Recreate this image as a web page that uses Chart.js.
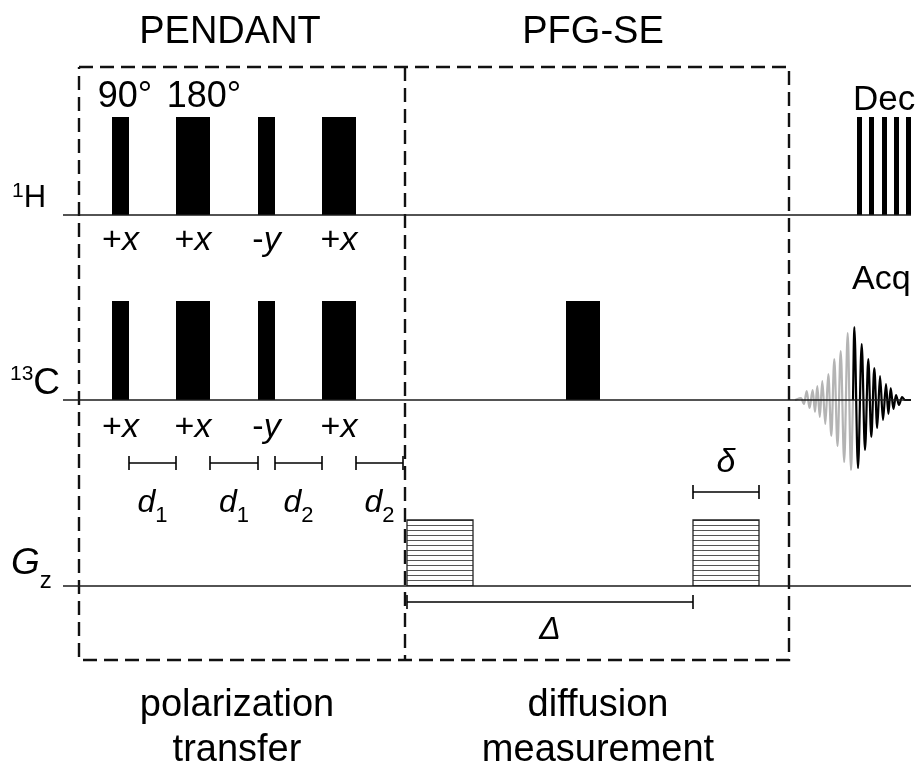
<!DOCTYPE html>
<html>
<head>
<meta charset="utf-8">
<script src="https://cdn.jsdelivr.net/npm/chart.js@4.4.1/dist/chart.umd.min.js"></script>
<style>
  html, body { margin: 0; padding: 0; background: #ffffff; }
  #wrap { width: 919px; height: 768px; }
</style>
</head>
<body>
<div id="wrap"><canvas id="seq" width="919" height="768"></canvas></div>
<script>
// ---- sequence timing (time runs left to right) ----
const traceStart = 63, traceEnd = 911;
const levelH = 215, levelC = 400, levelG = 586;

// 1H pulses: start, end, phase
const hPulseStart = [112, 176, 258, 322];
const hPulseEnd   = [129, 210, 275, 356];
const hPulseTop   = 117;
const hPhases     = ['+x', '+x', '-y', '+x'];

// 13C pulses (last one is the refocusing pulse of the spin echo)
const cPulseStart = [112, 176, 258, 322, 566];
const cPulseEnd   = [129, 210, 275, 356, 600];
const cPulseTop   = 301;
const cPhases     = ['+x', '+x', '-y', '+x'];

// 1H broadband decoupling during acquisition
const decStart = [857, 869, 882, 894, 906];
const decEnd   = [862, 874, 887, 899, 911];

// z field gradient pulses
const gradStart = [407, 693];
const gradEnd   = [473, 759];
const gradTop   = 520;

// delays
const delayStart = [129, 210, 275, 356];
const delayEnd   = [176, 258, 322, 403];
const delayIndex = ['1', '1', '2', '2'];
const delayLevel = 463;
const bigDeltaSpan = [407, 693];
const bigDeltaLevel = 602;
const smallDeltaSpan = [693, 759];
const smallDeltaLevel = 492;

// acquired echo: extrema (time, amplitude above the 13C baseline)
const echoRiseT = [795, 801, 804, 806.7, 809.5, 812.7, 815, 817.3, 819.8, 822.3, 825.3, 828.3, 831.3, 834.3, 837.5, 840.7, 844.2, 847.7, 851, 853];
const echoRiseA = [0, 2, -4, 9, -8, 10, -12, 14, -17, 19, -24, 26, -36, 41, -46, 49, -62, 67, -70, 0];
const echoFallT = [853, 854.3, 858, 861.7, 865, 868.3, 871.3, 874.3, 877.2, 880, 883, 886, 888.4, 890.7, 893.4, 896, 899, 902, 905, 911];
const echoFallA = [0, 73, -68, 56, -50, 41, -37, 32, -28, 24, -20, 16, -14, 12, -9, 5, -5, 3, 0, 0];

// dashed blocks: PENDANT | PFG-SE
const blockEdges = [79, 405, 789];
const blockTop = 67, blockBottom = 660;

// ---- helpers building point lists ----
function pulseTrain(starts, ends, top, base) {
  const pts = [];
  starts.forEach((s, i) => {
    pts.push({x: s, y: base}, {x: s, y: top}, {x: ends[i], y: top}, {x: ends[i], y: base});
  });
  return pts;
}
function echoPoints(ts, as, base) {
  return ts.map((t, i) => ({x: t, y: base - as[i]}));
}
function segment(x0, x1, y) { return [{x: x0, y: y}, {x: x1, y: y}]; }

// horizontal hatching for gradient pulses
const hatchCanvas = document.createElement('canvas');
hatchCanvas.width = 4; hatchCanvas.height = 5;
const hctx = hatchCanvas.getContext('2d');
hctx.fillStyle = '#555555';
hctx.fillRect(0, 0, 4, 1);
const hatch = hctx.createPattern(hatchCanvas, 'repeat');

const datasets = [];
function add(ds) {
  datasets.push(Object.assign({pointRadius: 0, borderColor: '#000', borderWidth: 1.6, fill: false, tension: 0}, ds));
}

// channel baselines
[levelH, levelC, levelG].forEach(l => add({data: segment(traceStart, traceEnd, l), borderWidth: 1.6, borderColor: '#1a1a1a'}));

// RF pulses
add({data: pulseTrain(hPulseStart, hPulseEnd, hPulseTop, levelH), borderWidth: 0, backgroundColor: '#000', fill: {target: {value: levelH}}});
add({data: pulseTrain(cPulseStart, cPulseEnd, cPulseTop, levelC), borderWidth: 0, backgroundColor: '#000', fill: {target: {value: levelC}}});
add({data: pulseTrain(decStart, decEnd, hPulseTop, levelH), borderWidth: 0, backgroundColor: '#000', fill: {target: {value: levelH}}});

// gradient pulses
gradStart.forEach((s, i) => {
  add({data: [{x: s, y: levelG}, {x: s, y: gradTop}, {x: gradEnd[i], y: gradTop}, {x: gradEnd[i], y: levelG}],
       borderWidth: 1.3, borderColor: '#222', backgroundColor: hatch, fill: {target: {value: levelG}}});
});

// echo signal
add({data: echoPoints(echoRiseT, echoRiseA, levelC), borderColor: '#b4b4b4', borderWidth: 2.2, cubicInterpolationMode: 'monotone'});
add({data: echoPoints(echoFallT, echoFallA, levelC), borderColor: '#000', borderWidth: 2.2, cubicInterpolationMode: 'monotone'});

// delay markers with end ticks
const tick = {pointRadius: 7, pointStyle: 'line', rotation: 90, pointBorderWidth: 1.6, pointBorderColor: '#000', borderWidth: 1.6};
delayStart.forEach((s, i) => add(Object.assign({data: segment(s, delayEnd[i], delayLevel)}, tick)));
add(Object.assign({data: segment(bigDeltaSpan[0], bigDeltaSpan[1], bigDeltaLevel)}, tick));
add(Object.assign({data: segment(smallDeltaSpan[0], smallDeltaSpan[1], smallDeltaLevel)}, tick));

// dashed blocks
const dash = {borderDash: [14, 7], borderWidth: 2.4, borderColor: '#111'};
add(Object.assign({data: [
  {x: blockEdges[0], y: blockTop}, {x: blockEdges[2], y: blockTop},
  {x: blockEdges[2], y: blockBottom}, {x: blockEdges[0], y: blockBottom},
  {x: blockEdges[0], y: blockTop}]}, dash));
add(Object.assign({data: [{x: blockEdges[1], y: blockTop}, {x: blockEdges[1], y: blockBottom}]}, dash));

// ---- text ----
const FAM = "'Liberation Sans', Arial, Helvetica, sans-serif";
function f(size, italic) { return (italic ? 'italic ' : '') + size + 'px ' + FAM; }

// parts: [{t, font, dy}]; align: 'left' | 'center'
function rich(ctx, x, y, parts, align) {
  let w = 0;
  parts.forEach(p => { ctx.font = p.font; p.w = ctx.measureText(p.t).width; w += p.w; });
  let cx = align === 'center' ? x - w / 2 : x;
  ctx.textAlign = 'left';
  ctx.textBaseline = 'alphabetic';
  parts.forEach(p => { ctx.font = p.font; ctx.fillText(p.t, cx, y + (p.dy || 0)); cx += p.w; });
}

const labelPlugin = {
  id: 'seqLabels',
  afterDatasetsDraw(chart) {
    const ctx = chart.ctx, X = chart.scales.x, Y = chart.scales.y;
    const px = v => X.getPixelForValue(v), py = v => Y.getPixelForValue(v);
    ctx.save();
    ctx.fillStyle = '#000';

    // block titles
    rich(ctx, px(230), py(43), [{t: 'PENDANT', font: f(38)}], 'center');
    rich(ctx, px(593), py(43), [{t: 'PFG-SE', font: f(38)}], 'center');
    rich(ctx, px(237), py(716), [{t: 'polarization', font: f(38)}], 'center');
    rich(ctx, px(237), py(761), [{t: 'transfer', font: f(38)}], 'center');
    rich(ctx, px(598), py(716), [{t: 'diffusion', font: f(38)}], 'center');
    rich(ctx, px(598), py(761), [{t: 'measurement', font: f(38)}], 'center');

    // flip angles
    rich(ctx, px(125), py(107), [{t: '90°', font: f(36)}], 'center');
    rich(ctx, px(204), py(107), [{t: '180°', font: f(36)}], 'center');

    // channel names
    rich(ctx, px(12), py(207), [{t: '1', font: f(21), dy: -10}, {t: 'H', font: f(31)}], 'left');
    rich(ctx, px(10), py(394), [{t: '13', font: f(21), dy: -14}, {t: 'C', font: f(37)}], 'left');
    rich(ctx, px(11), py(574), [{t: 'G', font: f(37, true)}, {t: 'z', font: f(24), dy: 14}], 'left');
    rich(ctx, px(853), py(110), [{t: 'Dec', font: f(35)}], 'left');
    rich(ctx, px(852), py(289), [{t: 'Acq', font: f(34)}], 'left');

    // pulse phases
    const phase = (s, e, ph, base) => {
      const c = (s + e) / 2;
      rich(ctx, px(c), py(base), [{t: ph[0], font: f(34)}, {t: ph.slice(1), font: f(34, true)}], 'center');
    };
    hPhases.forEach((ph, i) => phase(hPulseStart[i], hPulseEnd[i], ph, 250));
    cPhases.forEach((ph, i) => phase(cPulseStart[i], cPulseEnd[i], ph, 437));

    // delays
    delayIndex.forEach((d, i) => {
      const c = (delayStart[i] + delayEnd[i]) / 2;
      rich(ctx, px(c), py(512), [{t: 'd', font: f(32, true)}, {t: d, font: f(22), dy: 10}], 'center');
    });
    rich(ctx, px((smallDeltaSpan[0] + smallDeltaSpan[1]) / 2), py(472), [{t: 'δ', font: f(34, true)}], 'center');
    rich(ctx, px((bigDeltaSpan[0] + bigDeltaSpan[1]) / 2), py(639), [{t: 'Δ', font: f(32, true)}], 'center');

    ctx.restore();
  }
};

new Chart(document.getElementById('seq'), {
  type: 'line',
  data: {datasets: datasets},
  options: {
    responsive: false,
    animation: false,
    events: [],
    layout: {padding: 0, autoPadding: false},
    plugins: {legend: {display: false}, tooltip: {enabled: false}, title: {display: false}},
    scales: {
      x: {type: 'linear', min: 0, max: 919, display: false},
      y: {type: 'linear', min: 0, max: 768, reverse: true, display: false}
    }
  },
  plugins: [labelPlugin]
});
</script>
</body>
</html>
